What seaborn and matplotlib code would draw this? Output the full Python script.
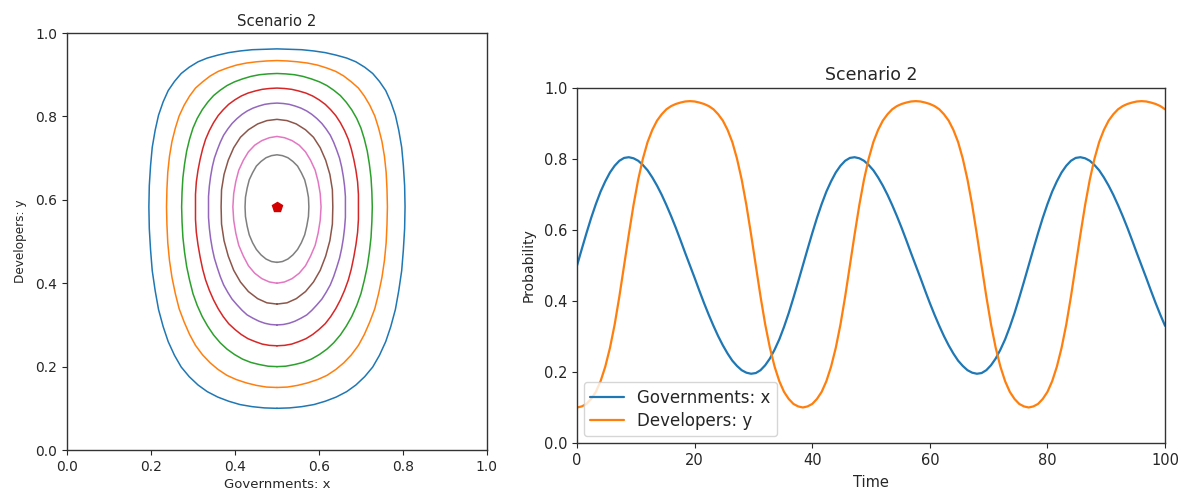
import numpy as np
import pandas as pd
import matplotlib
matplotlib.use("Agg")
import matplotlib.pyplot as plt
import seaborn as sns

# ---------------- data ----------------
# Phase portrait: eight closed orbits around the interior equilibrium (traced point by point)
orbit0_x = [0.500, 0.530, 0.559, 0.588, 0.615, 0.641, 0.666, 0.688, 0.709, 0.728, 0.744, 0.759, 0.771, 0.782, 0.790, 0.797, 0.801, 0.804, 0.805,
            0.804, 0.801, 0.797, 0.790, 0.782, 0.771, 0.759, 0.744, 0.728, 0.709, 0.688, 0.666, 0.641, 0.615, 0.588, 0.559, 0.530, 0.500,
            0.470, 0.441, 0.412, 0.385, 0.359, 0.334, 0.312, 0.291, 0.272, 0.256, 0.241, 0.229, 0.218, 0.210, 0.203, 0.199, 0.196, 0.195,
            0.196, 0.199, 0.203, 0.210, 0.218, 0.229, 0.241, 0.256, 0.272, 0.291, 0.312, 0.334, 0.359, 0.385, 0.412, 0.441, 0.470, 0.500]
orbit0_y = [0.100, 0.101, 0.104, 0.109, 0.117, 0.127, 0.140, 0.156, 0.176, 0.199, 0.227, 0.260, 0.296, 0.337, 0.382, 0.430, 0.480, 0.531, 0.583,
            0.634, 0.682, 0.726, 0.767, 0.803, 0.835, 0.862, 0.884, 0.903, 0.918, 0.931, 0.940, 0.947, 0.953, 0.957, 0.960, 0.961, 0.962,
            0.961, 0.960, 0.957, 0.953, 0.947, 0.940, 0.931, 0.918, 0.903, 0.884, 0.862, 0.835, 0.803, 0.767, 0.726, 0.682, 0.634, 0.583,
            0.531, 0.480, 0.430, 0.382, 0.337, 0.296, 0.260, 0.227, 0.199, 0.176, 0.156, 0.140, 0.127, 0.117, 0.109, 0.104, 0.101, 0.100]

orbit1_x = [0.500, 0.525, 0.549, 0.573, 0.597, 0.619, 0.640, 0.659, 0.677, 0.694, 0.708, 0.721, 0.733, 0.742, 0.750, 0.756, 0.760, 0.762, 0.763,
            0.762, 0.760, 0.756, 0.750, 0.742, 0.733, 0.721, 0.708, 0.694, 0.677, 0.659, 0.640, 0.619, 0.597, 0.573, 0.549, 0.525, 0.500,
            0.475, 0.451, 0.427, 0.403, 0.381, 0.360, 0.341, 0.323, 0.306, 0.292, 0.279, 0.267, 0.258, 0.250, 0.244, 0.240, 0.238, 0.237,
            0.238, 0.240, 0.244, 0.250, 0.258, 0.267, 0.279, 0.292, 0.306, 0.323, 0.341, 0.360, 0.381, 0.403, 0.427, 0.451, 0.475, 0.500]
orbit1_y = [0.150, 0.151, 0.155, 0.161, 0.169, 0.179, 0.193, 0.209, 0.228, 0.251, 0.277, 0.307, 0.339, 0.375, 0.414, 0.455, 0.497, 0.540, 0.583,
            0.626, 0.666, 0.704, 0.740, 0.772, 0.801, 0.827, 0.849, 0.868, 0.883, 0.897, 0.908, 0.916, 0.923, 0.928, 0.931, 0.933, 0.934,
            0.933, 0.931, 0.928, 0.923, 0.916, 0.908, 0.897, 0.883, 0.868, 0.849, 0.827, 0.801, 0.772, 0.740, 0.704, 0.666, 0.626, 0.583,
            0.540, 0.497, 0.455, 0.414, 0.375, 0.339, 0.307, 0.277, 0.251, 0.228, 0.209, 0.193, 0.179, 0.169, 0.161, 0.155, 0.151, 0.150]

orbit2_x = [0.500, 0.521, 0.542, 0.562, 0.582, 0.601, 0.619, 0.635, 0.651, 0.665, 0.678, 0.690, 0.700, 0.708, 0.715, 0.720, 0.724, 0.726, 0.727,
            0.726, 0.724, 0.720, 0.715, 0.708, 0.700, 0.690, 0.678, 0.665, 0.651, 0.635, 0.619, 0.601, 0.582, 0.562, 0.542, 0.521, 0.500,
            0.479, 0.458, 0.438, 0.418, 0.399, 0.381, 0.365, 0.349, 0.335, 0.322, 0.310, 0.300, 0.292, 0.285, 0.280, 0.276, 0.274, 0.273,
            0.274, 0.276, 0.280, 0.285, 0.292, 0.300, 0.310, 0.322, 0.335, 0.349, 0.365, 0.381, 0.399, 0.418, 0.438, 0.458, 0.479, 0.500]
orbit2_y = [0.200, 0.201, 0.205, 0.210, 0.218, 0.229, 0.242, 0.257, 0.276, 0.297, 0.320, 0.347, 0.375, 0.407, 0.440, 0.474, 0.510, 0.547, 0.583,
            0.619, 0.653, 0.686, 0.717, 0.746, 0.772, 0.795, 0.816, 0.834, 0.850, 0.863, 0.874, 0.883, 0.890, 0.896, 0.900, 0.902, 0.903,
            0.902, 0.900, 0.896, 0.890, 0.883, 0.874, 0.863, 0.850, 0.834, 0.816, 0.795, 0.772, 0.746, 0.717, 0.686, 0.653, 0.619, 0.583,
            0.547, 0.510, 0.474, 0.440, 0.407, 0.375, 0.347, 0.320, 0.297, 0.276, 0.257, 0.242, 0.229, 0.218, 0.210, 0.205, 0.201, 0.200]

orbit3_x = [0.500, 0.518, 0.535, 0.552, 0.569, 0.585, 0.600, 0.615, 0.628, 0.640, 0.651, 0.661, 0.670, 0.677, 0.683, 0.688, 0.692, 0.694, 0.694,
            0.694, 0.692, 0.688, 0.683, 0.677, 0.670, 0.661, 0.651, 0.640, 0.628, 0.615, 0.600, 0.585, 0.569, 0.552, 0.535, 0.518, 0.500,
            0.482, 0.465, 0.448, 0.431, 0.415, 0.400, 0.385, 0.372, 0.360, 0.349, 0.339, 0.330, 0.323, 0.317, 0.312, 0.308, 0.306, 0.306,
            0.306, 0.308, 0.312, 0.317, 0.323, 0.330, 0.339, 0.349, 0.360, 0.372, 0.385, 0.400, 0.415, 0.431, 0.448, 0.465, 0.482, 0.500]
orbit3_y = [0.250, 0.251, 0.254, 0.260, 0.267, 0.277, 0.289, 0.303, 0.320, 0.339, 0.360, 0.383, 0.408, 0.434, 0.463, 0.492, 0.522, 0.553, 0.583,
            0.613, 0.643, 0.671, 0.697, 0.722, 0.745, 0.766, 0.785, 0.802, 0.816, 0.829, 0.840, 0.849, 0.856, 0.861, 0.865, 0.867, 0.868,
            0.867, 0.865, 0.861, 0.856, 0.849, 0.840, 0.829, 0.816, 0.802, 0.785, 0.766, 0.745, 0.722, 0.697, 0.671, 0.643, 0.613, 0.583,
            0.553, 0.522, 0.492, 0.463, 0.434, 0.408, 0.383, 0.360, 0.339, 0.320, 0.303, 0.289, 0.277, 0.267, 0.260, 0.254, 0.251, 0.250]

orbit4_x = [0.500, 0.515, 0.529, 0.543, 0.557, 0.571, 0.583, 0.595, 0.607, 0.617, 0.627, 0.635, 0.642, 0.649, 0.654, 0.658, 0.661, 0.663, 0.663,
            0.663, 0.661, 0.658, 0.654, 0.649, 0.642, 0.635, 0.627, 0.617, 0.607, 0.595, 0.583, 0.571, 0.557, 0.543, 0.529, 0.515, 0.500,
            0.485, 0.471, 0.457, 0.443, 0.429, 0.417, 0.405, 0.393, 0.383, 0.373, 0.365, 0.358, 0.351, 0.346, 0.342, 0.339, 0.337, 0.337,
            0.337, 0.339, 0.342, 0.346, 0.351, 0.358, 0.365, 0.373, 0.383, 0.393, 0.405, 0.417, 0.429, 0.443, 0.457, 0.471, 0.485, 0.500]
orbit4_y = [0.300, 0.301, 0.304, 0.309, 0.316, 0.324, 0.335, 0.348, 0.362, 0.378, 0.396, 0.416, 0.437, 0.460, 0.483, 0.507, 0.532, 0.558, 0.583,
            0.608, 0.633, 0.656, 0.679, 0.700, 0.720, 0.738, 0.755, 0.770, 0.783, 0.795, 0.805, 0.813, 0.820, 0.825, 0.829, 0.831, 0.832,
            0.831, 0.829, 0.825, 0.820, 0.813, 0.805, 0.795, 0.783, 0.770, 0.755, 0.738, 0.720, 0.700, 0.679, 0.656, 0.633, 0.608, 0.583,
            0.558, 0.532, 0.507, 0.483, 0.460, 0.437, 0.416, 0.396, 0.378, 0.362, 0.348, 0.335, 0.324, 0.316, 0.309, 0.304, 0.301, 0.300]

orbit5_x = [0.500, 0.524, 0.546, 0.568, 0.587, 0.603, 0.616, 0.626, 0.632, 0.633, 0.632, 0.626, 0.616, 0.603, 0.587, 0.568, 0.546, 0.524, 0.500,
            0.476, 0.454, 0.432, 0.413, 0.397, 0.384, 0.374, 0.368, 0.367, 0.368, 0.374, 0.384, 0.397, 0.413, 0.432, 0.454, 0.476, 0.500]
orbit5_y = [0.350, 0.353, 0.363, 0.380, 0.403, 0.431, 0.465, 0.502, 0.542, 0.583, 0.624, 0.661, 0.695, 0.725, 0.750, 0.768, 0.782, 0.790, 0.793,
            0.790, 0.782, 0.768, 0.750, 0.725, 0.695, 0.661, 0.624, 0.583, 0.542, 0.502, 0.465, 0.431, 0.403, 0.380, 0.363, 0.353, 0.350]

orbit6_x = [0.500, 0.518, 0.536, 0.553, 0.568, 0.580, 0.591, 0.598, 0.603, 0.605, 0.603, 0.598, 0.591, 0.580, 0.568, 0.553, 0.536, 0.518, 0.500,
            0.482, 0.464, 0.447, 0.432, 0.420, 0.409, 0.402, 0.397, 0.395, 0.397, 0.402, 0.409, 0.420, 0.432, 0.447, 0.464, 0.482, 0.500]
orbit6_y = [0.400, 0.403, 0.411, 0.424, 0.442, 0.465, 0.491, 0.520, 0.551, 0.583, 0.615, 0.644, 0.671, 0.695, 0.715, 0.731, 0.742, 0.749, 0.752,
            0.749, 0.742, 0.731, 0.715, 0.695, 0.671, 0.644, 0.615, 0.583, 0.551, 0.520, 0.491, 0.465, 0.442, 0.424, 0.411, 0.403, 0.400]

orbit7_x = [0.500, 0.513, 0.526, 0.538, 0.549, 0.558, 0.566, 0.571, 0.575, 0.576, 0.575, 0.571, 0.566, 0.558, 0.549, 0.538, 0.526, 0.513, 0.500,
            0.487, 0.474, 0.462, 0.451, 0.442, 0.434, 0.429, 0.425, 0.424, 0.425, 0.429, 0.434, 0.442, 0.451, 0.462, 0.474, 0.487, 0.500]
orbit7_y = [0.450, 0.452, 0.458, 0.468, 0.481, 0.497, 0.516, 0.537, 0.560, 0.583, 0.606, 0.628, 0.648, 0.665, 0.681, 0.692, 0.701, 0.706, 0.708,
            0.706, 0.701, 0.692, 0.681, 0.665, 0.648, 0.628, 0.606, 0.583, 0.560, 0.537, 0.516, 0.497, 0.481, 0.468, 0.458, 0.452, 0.450]

equilibrium_x = [0.5]
equilibrium_y = [0.583]

# Time series (sampled every 0.8 time units from 0 to 100)
time = np.round(np.arange(126) * 0.8, 1)
gov_x = [0.500, 0.546, 0.591, 0.634, 0.673, 0.708, 0.737, 0.762, 0.781, 0.795, 0.803, 0.805, 0.802, 0.795, 0.783, 0.768,
         0.748, 0.725, 0.699, 0.670, 0.639, 0.606, 0.571, 0.535, 0.500, 0.465, 0.429, 0.394, 0.361, 0.330, 0.301, 0.275,
         0.252, 0.232, 0.217, 0.205, 0.198, 0.195, 0.197, 0.205, 0.219, 0.238, 0.263, 0.292, 0.327, 0.366, 0.409, 0.454,
         0.500, 0.546, 0.591, 0.634, 0.673, 0.708, 0.737, 0.762, 0.781, 0.795, 0.803, 0.805, 0.802, 0.795, 0.783, 0.768,
         0.748, 0.725, 0.699, 0.670, 0.639, 0.606, 0.571, 0.535, 0.500, 0.465, 0.429, 0.394, 0.361, 0.330, 0.301, 0.275,
         0.252, 0.232, 0.217, 0.205, 0.198, 0.195, 0.197, 0.205, 0.219, 0.238, 0.263, 0.292, 0.327, 0.366, 0.409, 0.454,
         0.500, 0.546, 0.591, 0.634, 0.673, 0.708, 0.737, 0.762, 0.781, 0.795, 0.803, 0.805, 0.802, 0.795, 0.783, 0.768,
         0.748, 0.725, 0.699, 0.670, 0.639, 0.606, 0.571, 0.535, 0.500, 0.465, 0.429, 0.394, 0.361, 0.330]
dev_y = [0.100, 0.103, 0.110, 0.124, 0.144, 0.174, 0.215, 0.268, 0.334, 0.413, 0.500, 0.587, 0.670, 0.742, 0.801, 0.848,
         0.882, 0.908, 0.926, 0.940, 0.949, 0.955, 0.959, 0.962, 0.963, 0.962, 0.959, 0.955, 0.949, 0.940, 0.926, 0.908,
         0.882, 0.848, 0.801, 0.742, 0.670, 0.587, 0.500, 0.413, 0.334, 0.268, 0.215, 0.174, 0.144, 0.124, 0.110, 0.103,
         0.100, 0.103, 0.110, 0.124, 0.144, 0.174, 0.215, 0.268, 0.334, 0.413, 0.500, 0.587, 0.670, 0.742, 0.801, 0.848,
         0.882, 0.908, 0.926, 0.940, 0.949, 0.955, 0.959, 0.962, 0.963, 0.962, 0.959, 0.955, 0.949, 0.940, 0.926, 0.908,
         0.882, 0.848, 0.801, 0.742, 0.670, 0.587, 0.500, 0.413, 0.334, 0.268, 0.215, 0.174, 0.144, 0.124, 0.110, 0.103,
         0.100, 0.103, 0.110, 0.124, 0.144, 0.174, 0.215, 0.268, 0.334, 0.413, 0.500, 0.587, 0.670, 0.742, 0.801, 0.848,
         0.882, 0.908, 0.926, 0.940, 0.949, 0.955, 0.959, 0.962, 0.963, 0.962, 0.959, 0.955, 0.949, 0.940]

series_names = ["Governments: x", "Developers: y"]
title_text = "Scenario 2"

# ---------------- build long-form tables ----------------
orbits_x = [orbit0_x, orbit1_x, orbit2_x, orbit3_x, orbit4_x, orbit5_x, orbit6_x, orbit7_x]
orbits_y = [orbit0_y, orbit1_y, orbit2_y, orbit3_y, orbit4_y, orbit5_y, orbit6_y, orbit7_y]
rows = []
for i, (ox, oy) in enumerate(zip(orbits_x, orbits_y)):
    for j, (a, b) in enumerate(zip(ox, oy)):
        rows.append({"orbit": i, "order": j, "x": a, "y": b})
df_orbits = pd.DataFrame(rows)

df_ts = pd.concat([
    pd.DataFrame({"Time": time, "Probability": gov_x, "series": series_names[0]}),
    pd.DataFrame({"Time": time, "Probability": dev_y, "series": series_names[1]}),
], ignore_index=True)

# ---------------- figure ----------------
sns.set_style("white")
plt.rcParams["font.family"] = ["DejaVu Sans"]
plt.rcParams["xtick.bottom"] = True
plt.rcParams["ytick.left"] = True

tab10 = sns.color_palette("tab10", 10)

fig = plt.figure(figsize=(11.92, 4.96), dpi=100)
ax1 = fig.add_axes([0.0562, 0.0927, 0.3523, 0.8407])
ax2 = fig.add_axes([0.4841, 0.1069, 0.4933, 0.7157])

# Left: phase portrait
sns.lineplot(data=df_orbits, x="x", y="y", hue="orbit", units="orbit", estimator=None,
             sort=False, palette=tab10[:8], linewidth=1.1, legend=False, ax=ax1)
ax1.plot(equilibrium_x, equilibrium_y, marker="p", color="#d40000", markersize=7, linestyle="none")
ax1.set_xlim(0, 1)
ax1.set_ylim(0, 1)
ax1.set_xticks([0.0, 0.2, 0.4, 0.6, 0.8, 1.0])
ax1.set_yticks([0.0, 0.2, 0.4, 0.6, 0.8, 1.0])
ax1.set_xlabel("Governments: x", fontsize=9.5, labelpad=3)
ax1.set_ylabel("Developers: y", fontsize=8.7, labelpad=6)
ax1.set_title(title_text, fontsize=10.7, pad=5)
ax1.tick_params(labelsize=10, length=3.5, width=0.8, pad=3.5)

# Right: time series
sns.lineplot(data=df_ts, x="Time", y="Probability", hue="series", sort=False, estimator=None,
             palette=[tab10[0], tab10[1]], linewidth=1.6, ax=ax2)
ax2.set_xlim(0, 100)
ax2.set_ylim(0, 1)
ax2.set_xticks([0, 20, 40, 60, 80, 100])
ax2.set_yticks([0.0, 0.2, 0.4, 0.6, 0.8, 1.0])
ax2.set_xlabel("Time", fontsize=10.5, labelpad=5)
ax2.set_ylabel("Probability", fontsize=10, labelpad=6)
ax2.set_title(title_text, fontsize=12.5, pad=6)
ax2.tick_params(labelsize=10.5, length=3.5, width=0.8, pad=3.5)
leg = ax2.legend(loc="lower left", fontsize=12, frameon=True, borderaxespad=0.4,
                 handlelength=2.0, labelspacing=0.3)
leg.set_title(None)

for ax in (ax1, ax2):
    for sp in ax.spines.values():
        sp.set_visible(True)
        sp.set_color("#333333")
        sp.set_linewidth(1.0)

fig.savefig("out.png", dpi=100, facecolor="white")
